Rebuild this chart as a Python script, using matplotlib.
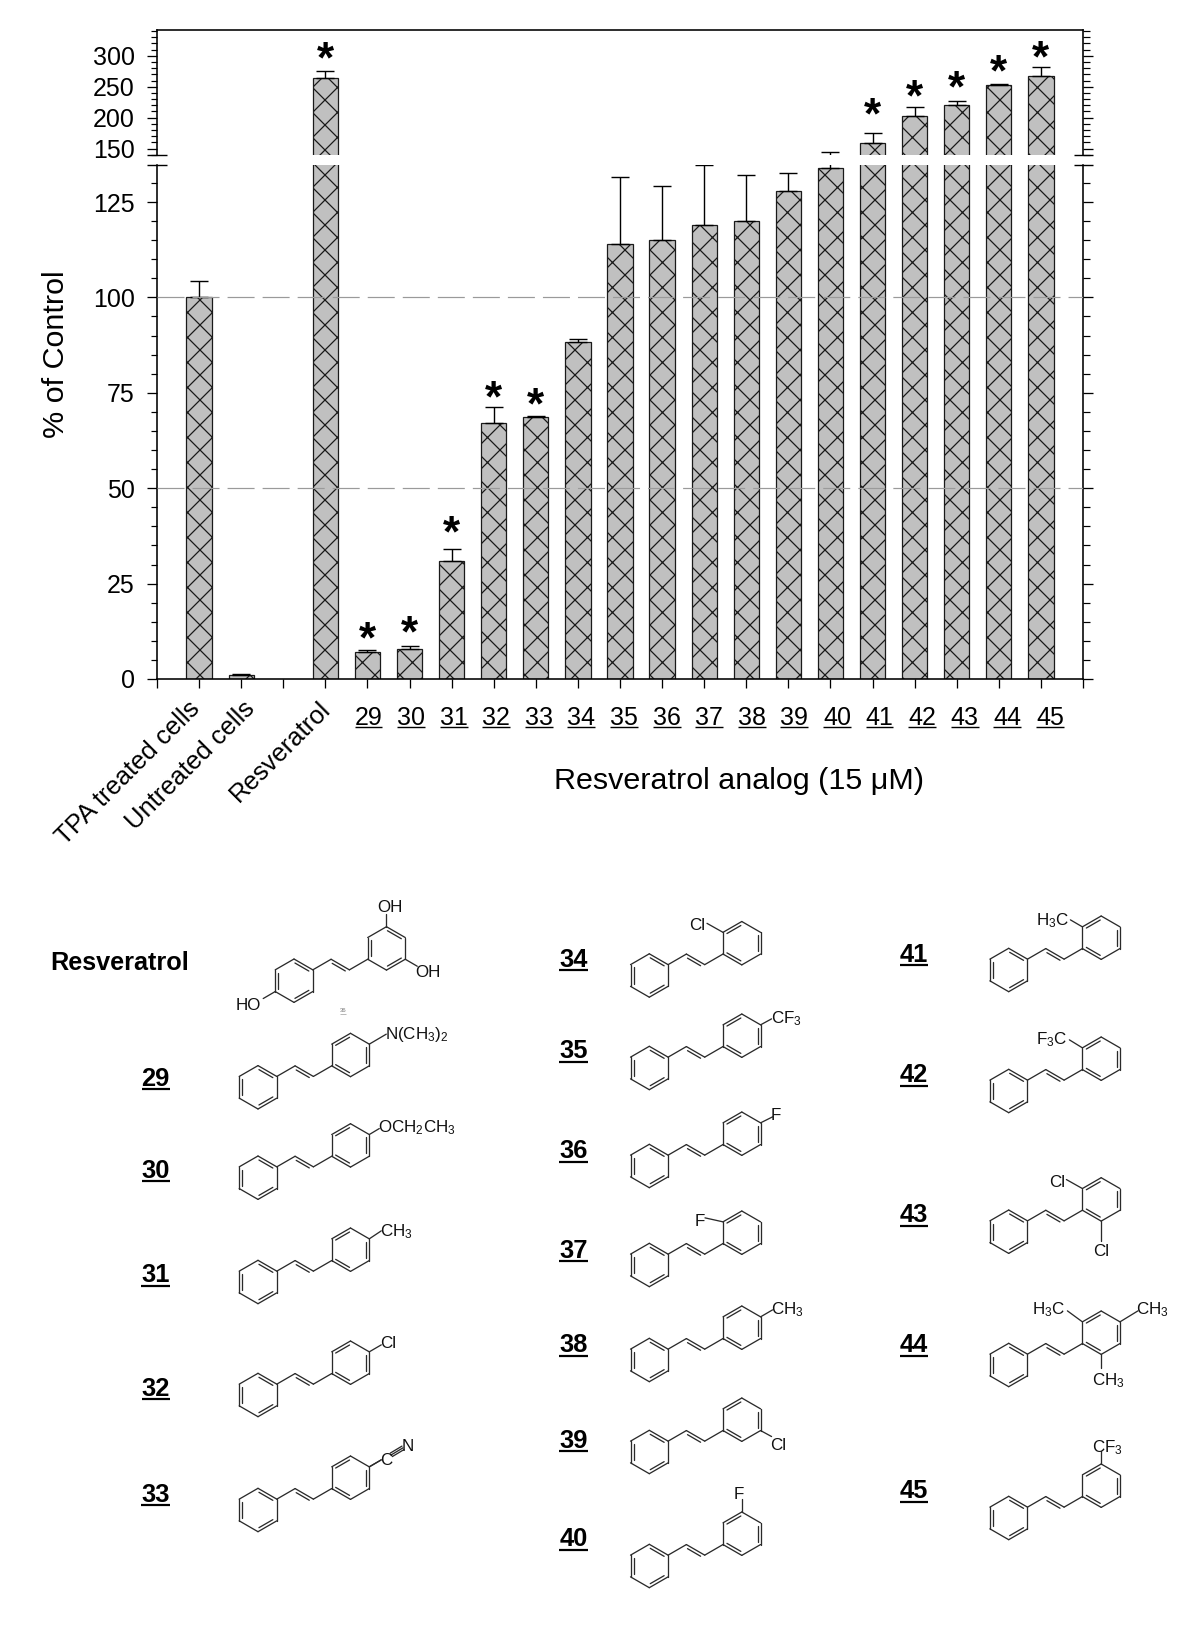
import numpy as np
import matplotlib
matplotlib.use("Agg")
import matplotlib.pyplot as plt
from matplotlib.ticker import MultipleLocator, FixedLocator
from matplotlib.transforms import ScaledTranslation

# ---------- data ----------
bar_pos = [1, 2, 4, 5, 6, 7, 8, 9, 10, 11, 12, 13, 14, 15, 16, 17, 18, 19, 20, 21]
bar_vals = [100, 1.0, 263.5, 7.2, 7.9, 30.9, 67.2, 68.6, 88.2, 114.1, 115, 119.1, 120, 127.8,
            134, 159.7, 202.7, 221, 252.3, 267]
bar_tops = [104.4, 1.3, 275, 7.6, 8.7, 34, 71.4, 68.9, 89, 131.6, 129.2, 134.8, 132.2, 132.6,
            144, 175.8, 216.8, 227.5, 254.5, 282]
star_pos = [4, 5, 6, 7, 8, 9, 17, 18, 19, 20, 21]
star_gap = [19, 18, 19, 23, 15, 18, 24, 17, 19, 19, 15]
rotated_labels = {1: "TPA treated cells", 2: "Untreated cells", 4: "Resveratrol"}
analog_ids = list(range(29, 46))
ref_lines = [50, 100]

# ---------- style ----------
W, H, DPI = 1200, 1629, 150
PX = 72 / DPI
plt.rcParams.update({
    "font.family": ["Liberation Sans", "DejaVu Sans"],
    "mathtext.fontset": "custom",
    "mathtext.rm": "Liberation Sans",
    "mathtext.default": "rm",
    "hatch.linewidth": 0.6,
})
INK = "#1a1a1a"
fig = plt.figure(figsize=(W / DPI, H / DPI), dpi=DPI, facecolor="white")

def box(l, t, r, b):
    return [l / W, 1 - b / H, (r - l) / W, (b - t) / H]

L, R = 157, 1083
ax_hi = fig.add_axes(box(L, 30, R, 155))
ax_lo = fig.add_axes(box(L, 165, R, 679))
ax_hi.set_ylim(139.8, 341.5)
ax_lo.set_ylim(0, 134.7)

for ax in (ax_hi, ax_lo):
    ax.set_xlim(0, 22)
    ax.patch.set_alpha(0)
    ax.bar(bar_pos, bar_vals, width=0.6, color="#c0c0c0", edgecolor=INK,
           linewidth=0.6, hatch="xx", zorder=2)
    ax.errorbar(bar_pos, bar_vals,
                yerr=[np.zeros(len(bar_vals)), np.array(bar_tops) - np.array(bar_vals)],
                fmt="none", ecolor="black", elinewidth=1.4 * PX, capsize=9.5 * PX,
                capthick=1.4 * PX, zorder=3)
    ax.tick_params(axis="y", which="major", left=True, right=True, direction="out",
                   length=10 * PX, width=1.3 * PX, labelsize=25 * PX, pad=12 * PX, color="black")
    ax.tick_params(axis="y", which="minor", left=True, right=True, direction="out",
                   length=6.5 * PX, width=1.2 * PX)
    for s in ax.spines.values():
        s.set_linewidth(1.6 * PX)

ax_hi.spines["bottom"].set_visible(False)
ax_lo.spines["top"].set_visible(False)
ax_hi.tick_params(axis="x", bottom=False, labelbottom=False)
ax_hi.yaxis.set_major_locator(FixedLocator([150, 200, 250, 300]))
ax_hi.yaxis.set_minor_locator(MultipleLocator(10))
ax_lo.yaxis.set_major_locator(FixedLocator([0, 25, 50, 75, 100, 125]))
ax_lo.yaxis.set_minor_locator(MultipleLocator(5))

for v in ref_lines:
    ax_lo.axhline(v, color="#9a9a9a", linewidth=1.2 * PX, linestyle=(0, (22.5, 6.7)), zorder=4)

# stars
for p, gap in zip(star_pos, star_gap):
    top = bar_tops[bar_pos.index(p)]
    ax = ax_hi if top > 135 else ax_lo
    ax.annotate("*", xy=(p, top), xytext=(0, (gap - 20) * PX), textcoords="offset points",
                ha="center", va="baseline", fontsize=44 * PX, fontweight="bold",
                annotation_clip=False, zorder=6)

# axis labels
ax_lo.set_ylabel("% of Control", fontsize=30.5 * PX)
ax_lo.yaxis.set_label_coords(56 / W, 1 - 354 / H, transform=fig.transFigure)
ax_lo.yaxis.label.set_va("center")
ax_lo.set_xlabel("Resveratrol analog (15 \u03bcM)", fontsize=30.5 * PX)
ax_lo.xaxis.set_label_coords(739 / W, 1 - 781 / H, transform=fig.transFigure)
ax_lo.xaxis.label.set_va("center")

# x ticks and tick labels
ticks = list(range(0, 23))
names = [rotated_labels.get(t, "") for t in ticks]
for i, a in enumerate(analog_ids):
    names[5 + i] = str(a)
ax_lo.set_xticks(ticks)
ax_lo.set_xticklabels(names)
ax_lo.tick_params(axis="x", length=9.5 * PX, width=1.3 * PX, direction="out", pad=18 * PX)
label_shift = {1: -11, 2: 1, 4: -7}
for i in range(len(analog_ids)):
    label_shift[5 + i] = 1 + 0.5 * i
for tick, t in zip(ax_lo.xaxis.get_major_ticks(), ticks):
    lab = tick.label1
    lab.set_fontsize(25 * PX)
    dy = 0
    if t in rotated_labels:
        lab.set_rotation(45)
        lab.set_ha("right")
        lab.set_va("top")
        lab.set_rotation_mode("anchor")
        lab.set_fontsize(25.6 * PX)
        dy = 10
    lab.set_transform(lab.get_transform() + ScaledTranslation(label_shift.get(t, 0) / DPI, dy / DPI, fig.dpi_scale_trans))

# overlay in pixel coordinates
ov = fig.add_axes([0, 0, 1, 1], zorder=10)
ov.set_xlim(0, W)
ov.set_ylim(H, 0)
ov.axis("off")

for y in (155, 165):
    ov.plot([147, 167], [y, y], color="black", lw=1.4 * PX, solid_capstyle="butt")
    ov.plot([1074, 1093], [y, y], color="black", lw=1.4 * PX, solid_capstyle="butt")

# ---------- chemical structures ----------
RING = 21.7
VERT = {n: (RING * np.cos(np.radians(a)), -RING * np.sin(np.radians(a)))
        for n, a in dict(T=90, UR=30, LR=-30, B=-90, LL=-150, UL=150).items()}
ORDER = ["T", "UR", "LR", "B", "LL", "UL"]
PAT_A = [("UL", "LL"), ("T", "UR"), ("LR", "B")]
PAT_B = [("UL", "T"), ("UR", "LR"), ("LL", "B")]
LW = 1.3 * PX
CC = "#2a2a2a"

def seg(p, q, lw=LW):
    ov.plot([p[0], q[0]], [p[1], q[1]], color=CC, lw=lw, solid_capstyle="round")

def ring(c, pattern):
    for i, n in enumerate(ORDER):
        a, b = VERT[n], VERT[ORDER[(i + 1) % 6]]
        seg((c[0] + a[0], c[1] + a[1]), (c[0] + b[0], c[1] + b[1]))
    for n1, n2 in pattern:
        a, b = np.array(VERT[n1]) * 0.84, np.array(VERT[n2]) * 0.84
        d = (b - a) * 0.06
        seg((c[0] + a[0] + d[0], c[1] + a[1] + d[1]), (c[0] + b[0] - d[0], c[1] + b[1] - d[1]))

def stilbene(x, y, pat1=PAT_A, pat2=PAT_B):
    c1 = (x, y)
    v0 = np.array([x + VERT["UR"][0], y + VERT["UR"][1]])
    v1 = v0 + (18.3, -10.6)
    v2 = v1 + (18.3, 10.6)
    v3 = v2 + (18.3, -10.6)
    c2 = v3 - np.array(VERT["LL"])
    ring(c1, pat1)
    ring(c2, pat2)
    seg(v0, v1); seg(v1, v2); seg(v2, v3)
    seg(v1 + (1.1, 4.1), v2 + (-4.1, 1.1))
    return c2

def sub(c, vertex, bond, text, tx, ha="left", size=17):
    v = np.array([c[0] + VERT[vertex][0], c[1] + VERT[vertex][1]])
    seg(v, v + np.array(bond))
    nudge = {"left": -2, "center": -2, "right": 0}[ha]
    ov.text(v[0] + tx[0] + nudge, v[1] + tx[1] + 2.5, text, ha=ha, va="center",
            fontsize=size * PX, color="#111111")

def num_label(x, y, s, size=25.5, weight="bold", color="black", gap=13, lw=2.2):
    t = ov.text(x, y, s, ha="center", va="center_baseline", fontsize=size * PX, fontweight=weight, color=color)
    return t, gap, lw, color

underlined = []

# Column 1
COL1_X, COL2_X, COL3_X = 258, 649.3, 1008.7
LAB1_X, LAB2_X, LAB3_X = 155.7, 573.5, 914

c = stilbene(294, 980.7, PAT_A, PAT_A)
left = (294, 980.7)
sub(left, "LL", (-12, 7), "HO", (-14, 11.5), ha="right")
sub(c, "T", (0, -13), "OH", (5.7, -21.7), ha="center")
sub(c, "LR", (12, 7), "OH", (12.3, 10.7))
ov.text(50, 963, "Resveratrol", ha="left", va="center", fontsize=25.3 * PX, fontweight="bold")
underlined.append(num_label(343, 1010, "36", size=6, weight="normal", color="#777777", gap=3.5, lw=0.5))

structs = [
    ("29", LAB1_X, 1076, COL1_X, 1087.3, [("UR", (17, -10), "N(CH$_3$)$_2$", (18, -12), "left")]),
    ("30", LAB1_X, 1168, COL1_X, 1177.7, [("UR", (10, -6), "OCH$_2$CH$_3$", (11, -9), "left")]),
    ("31", LAB1_X, 1273, COL1_X, 1282, [("UR", (12, -8), "CH$_3$", (12.5, -10), "left")]),
    ("32", LAB1_X, 1386, COL1_X, 1395, [("UR", (12, -7), "Cl", (12.5, -11), "left")]),
    ("33", LAB1_X, 1492, COL1_X, 1510, [("UR", (12, -7), "C", (12.5, -9), "left"),
                                        ("UR", (12, -7), "N", (34, -23), "left")]),
    ("34", LAB2_X, 957, COL2_X, 975.5, [("UL", (-16, -9), "Cl", (-17.7, -9.3), "right")]),
    ("35", LAB2_X, 1049, COL2_X, 1068, [("UR", (11, -6), "CF$_3$", (12, -9), "left")]),
    ("36", LAB2_X, 1149, COL2_X, 1166, [("UR", (12, -6), "F", (12, -10), "left")]),
    ("37", LAB2_X, 1248, COL2_X, 1265, [("UL", (-18, -4), "F", (-18, -3), "right")]),
    ("38", LAB2_X, 1343, COL2_X, 1360, [("UR", (12, -7), "CH$_3$", (12, -10), "left")]),
    ("39", LAB2_X, 1438, COL2_X, 1452, [("LR", (11, 6), "Cl", (12, 12), "left")]),
    ("40", LAB2_X, 1537, COL2_X, 1566, [("T", (0, -13), "F", (-0.5, -20), "center")]),
    ("41", LAB3_X, 952, COL3_X, 970, [("UL", (-12, -7), "H$_3$C", (-13, -9), "right")]),
    ("42", LAB3_X, 1073, COL3_X, 1091, [("UL", (-13, -8), "F$_3$C", (-15, -10.7), "right")]),
    ("43", LAB3_X, 1213, COL3_X, 1231.7, [("UL", (-16, -9), "Cl", (-17, -9), "right"),
                                          ("B", (0, 20), "Cl", (2, 28), "center")]),
    ("44", LAB3_X, 1343, COL3_X, 1365, [("UL", (-15, -11), "H$_3$C", (-17, -15), "right"),
                                        ("UR", (18, -11), "CH$_3$", (18, -15), "left"),
                                        ("B", (0, 14), "CH$_3$", (9, 24), "center")]),
    ("45", LAB3_X, 1489, COL3_X, 1518, [("T", (0, -13), "CF$_3$", (8, -19), "center")]),
]
for name, lx, ly, cx, cy, subs in structs:
    underlined.append(num_label(lx, ly, name))
    c2 = stilbene(cx, cy)
    for vtx, bond, txt, tpos, ha in subs:
        sub(c2, vtx, bond, txt, tpos, ha=ha)
    if name == "33":
        v = np.array([c2[0] + VERT["UR"][0], c2[1] + VERT["UR"][1]])
        a, b = v + (22, -12), v + (33.7, -19)
        n = np.array([0.5, 0.866]) * 2.0
        seg(a, b); seg(a + n, b + n); seg(a - n, b - n)

fig.canvas.draw()
rend = fig.canvas.get_renderer()
inv = ov.transData.inverted()
for t, gap, lw, col in underlined:
    bb = t.get_window_extent(rend)
    (x0, _), (x1, _) = inv.transform([(bb.x0, bb.y0), (bb.x1, bb.y1)])
    cy = t.get_position()[1]
    ov.plot([x0, x1], [cy + gap, cy + gap], color=col, lw=lw * PX, solid_capstyle="butt")
for tick, tv in zip(ax_lo.xaxis.get_major_ticks(), ticks):
    if 5 <= tv <= 21:
        bb = tick.label1.get_window_extent(rend)
        (x0, y0), (x1, y1) = inv.transform([(bb.x0, bb.y0), (bb.x1, bb.y1)])
        ov.plot([x0, x1], [727, 727], color="black", lw=1.4 * PX, solid_capstyle="butt")

fig.savefig("out.png", dpi=DPI, facecolor="white")
